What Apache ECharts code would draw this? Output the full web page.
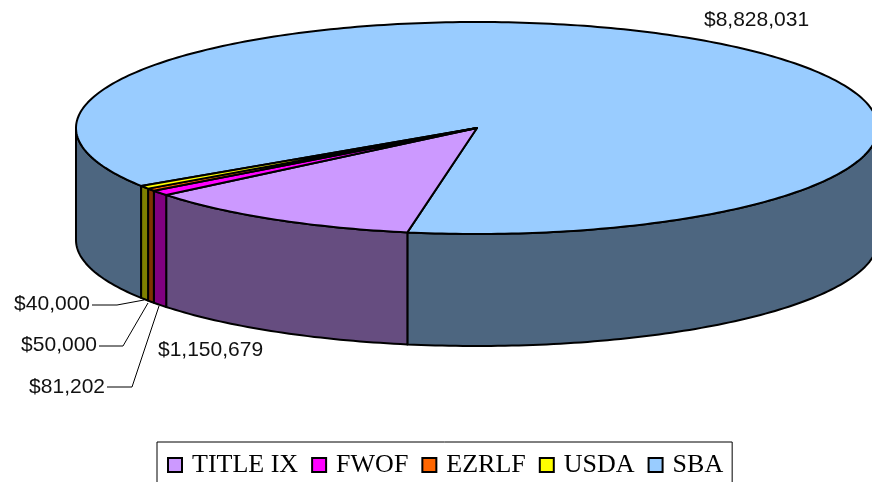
<!DOCTYPE html>
<html>
<head>
<meta charset="utf-8">
<style>html,body{margin:0;padding:0;background:#fff;overflow:hidden}#chart{width:872px;height:482px}</style>
<script src="https://cdn.jsdelivr.net/npm/echarts@6/dist/echarts.min.js"></script>
</head>
<body>
<div id="chart"></div>
<script>
var categories = ['TITLE IX', 'FWOF', 'EZRLF', 'USDA', 'SBA'];
var amounts = [1150679, 81202, 40000, 50000, 8828031];
var topColors = ['#CC99FF', '#FF00FF', '#FF6600', '#FFFF00', '#99CCFF'];
var wallColors = ['#664D80', '#800080', '#803300', '#808000', '#4D6680'];

// disc geometry, in the pixel-sized units of the hidden axes
var cx = 477, cy = 128, rx = 401, ry = 106, depth = 112, startDeg = 100;

// label text anchor and leader line for each slice
var labelPos = [[158, 350], null, null, null, [704, 20]];
var labelAnchors = [
	null,
	{ x: 105, y: 387, line: [[107, 387], [132, 387], [159, 306]] },
	{ x: 90, y: 304, line: [[92, 305], [117, 305], [144, 300]] },
	{ x: 97, y: 345, line: [[99, 346], [123, 346], [148, 303]] },
	null
];

var total = 0;
for (var i = 0; i < amounts.length; i++) {
	total += amounts[i];
}
var spans = [];
var run = startDeg;
for (var i = 0; i < amounts.length; i++) {
	var sweep = amounts[i] / total * 360;
	spans.push([run, run + sweep]);
	run += sweep;
}

function rimPoint(api, deg, drop) {
	var r = deg * Math.PI / 180;
	return api.coord([cx + rx * Math.cos(r), cy + ry * Math.sin(r) + drop]);
}
function rimArc(api, from, to, drop) {
	var pts = [];
	var n = Math.max(2, Math.ceil(Math.abs(to - from)));
	for (var k = 0; k <= n; k++) {
		pts.push(rimPoint(api, from + (to - from) * k / n, drop));
	}
	return pts;
}
function outlined(points, color) {
	return {
		type: 'polygon',
		shape: { points: points },
		style: { fill: color, stroke: '#000', lineWidth: 2, lineJoin: 'round' }
	};
}
function wallPiece(api, from, to, color) {
	var upper = rimArc(api, from, to, 0);
	var lower = rimArc(api, to, from, depth);
	return outlined(upper.concat(lower), color);
}
function labelStyle(text, x, y, align) {
	return { text: text, x: x, y: y, fill: '#111', align: align, verticalAlign: 'middle', font: '21px "Liberation Sans", Arial, sans-serif' };
}
function moneyText(v) {
	return '$' + v.toLocaleString('en-US');
}

function sliceRenderer(idx) {
	return function (params, api) {
		var from = spans[idx][0], to = spans[idx][1];
		var kids = [];
		// only the front half of the rim shows a wall
		var fronts = [[0, 180], [360, 540]];
		for (var f = 0; f < fronts.length; f++) {
			var a = Math.max(from, fronts[f][0]);
			var b = Math.min(to, fronts[f][1]);
			if (b > a) {
				kids.push(wallPiece(api, a, b, wallColors[idx]));
			}
		}
		var top = [api.coord([cx, cy])].concat(rimArc(api, from, to, 0));
		kids.push(outlined(top, topColors[idx]));

		var txt = moneyText(amounts[idx]);
		if (labelPos[idx]) {
			var p = api.coord(labelPos[idx]);
			kids.push({ type: 'text', style: labelStyle(txt, p[0], p[1], 'left') });
		}
		var anc = labelAnchors[idx];
		if (anc) {
			var q = api.coord([anc.x, anc.y]);
			kids.push({ type: 'text', style: labelStyle(txt, q[0], q[1], 'right') });
			var linePts = [];
			for (var m = 0; m < anc.line.length; m++) {
				linePts.push(api.coord(anc.line[m]));
			}
			kids.push({ type: 'polyline', shape: { points: linePts }, style: { fill: null, stroke: '#000', lineWidth: 1 } });
		}
		return { type: 'group', children: kids };
	};
}

var seriesList = [];
// SBA first so the thin slices sit over its outline
var drawOrder = [4, 0, 1, 2, 3];
for (var i = 0; i < drawOrder.length; i++) {
	var idx = drawOrder[i];
	seriesList.push({
		type: 'custom',
		name: categories[idx],
		coordinateSystem: 'cartesian2d',
		clip: false,
		silent: true,
		animation: false,
		itemStyle: { color: topColors[idx] },
		encode: { x: 0, y: 1 },
		data: [[cx, cy, amounts[idx]]],
		renderItem: sliceRenderer(idx)
	});
}

var chart = echarts.init(document.getElementById('chart'), null, { renderer: 'canvas' });
chart.setOption({
	animation: false,
	backgroundColor: '#fff',
	grid: { left: 0, right: 0, top: 0, bottom: 0 },
	xAxis: { type: 'value', min: 0, max: 872, show: false },
	yAxis: { type: 'value', min: 0, max: 482, inverse: true, show: false },
	legend: {
		data: categories,
		left: 157,
		top: 442,
		orient: 'horizontal',
		selectedMode: false,
		icon: 'rect',
		itemWidth: 14,
		itemHeight: 14,
		itemGap: 13,
		padding: [10, 9, 9, 10],
		borderColor: '#000',
		borderWidth: 1,
		itemStyle: { borderColor: '#000', borderWidth: 2 },
		textStyle: { fontFamily: '"Liberation Serif", "Times New Roman", serif', fontSize: 26, color: '#000', padding: [0, 0, 0, 5] }
	},
	series: seriesList
});
</script>
</body>
</html>
